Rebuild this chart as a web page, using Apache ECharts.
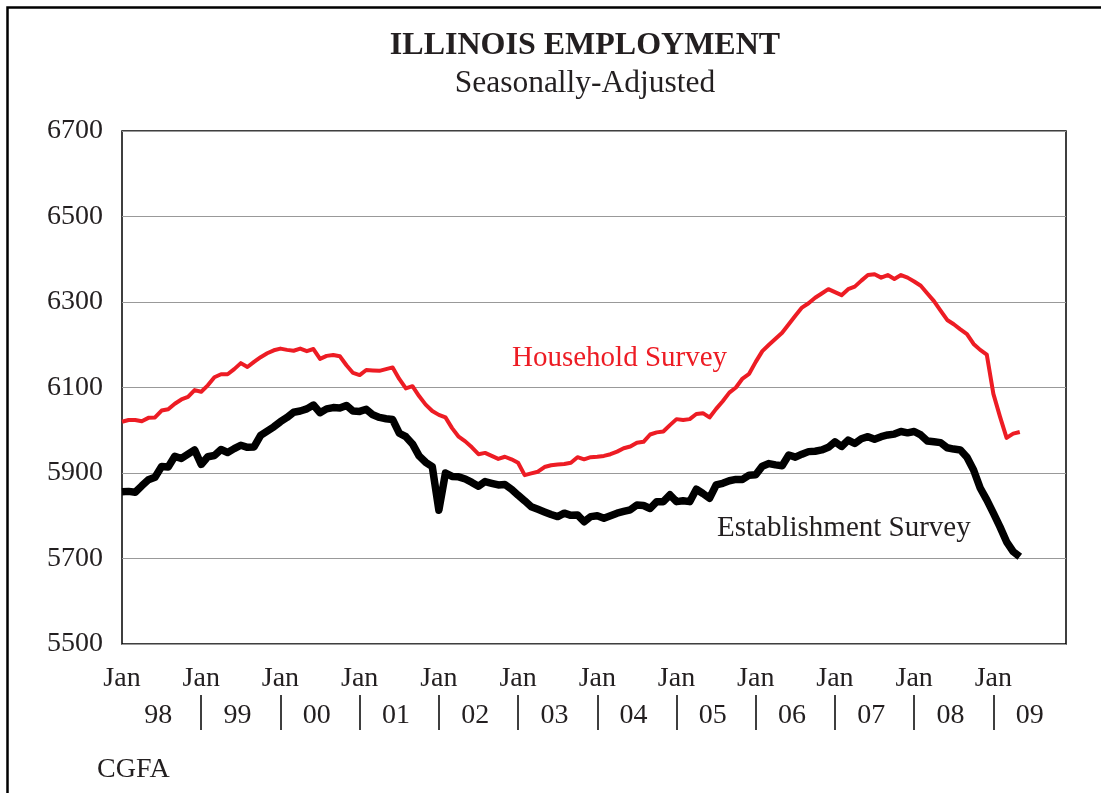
<!DOCTYPE html>
<html>
<head>
<meta charset="utf-8">
<title>Illinois Employment</title>
<script src="https://cdn.jsdelivr.net/npm/echarts@6/dist/echarts.min.js"></script>
<style>
  html, body { margin: 0; padding: 0; background: #fff; }
  #chart { width: 1101px; height: 793px; }
</style>
</head>
<body>
<div id="chart"></div>
<script>
// month names and two-digit years on the x axis (Jan 98 .. Dec 09)
const months = ["Jan", "Feb", "Mar", "Apr", "May", "Jun", "Jul", "Aug", "Sep", "Oct", "Nov", "Dec"];
const years = ["98", "99", "00", "01", "02", "03", "04", "05", "06", "07", "08", "09"];
const yTicks = [5500, 6700, 200]; // min, max, step

// thousands of jobs, monthly from Jan 1998
const household = [
  6020, 6024, 6024, 6021, 6029, 6030, 6046, 6049, 6062, 6072, 6078, 6094,
  6090, 6105, 6124, 6131, 6131, 6143, 6157, 6148, 6160, 6171, 6180, 6187,
  6191, 6188, 6186, 6191, 6185, 6190, 6167, 6174, 6176, 6173, 6152, 6134,
  6129, 6141, 6140, 6139, 6143, 6147, 6120, 6098, 6103, 6080, 6060, 6045,
  6036, 6030, 6005, 5985, 5974, 5960, 5944, 5947, 5940, 5933, 5938, 5932,
  5924, 5895, 5899, 5903, 5914, 5918, 5920, 5921, 5924, 5937, 5932, 5937,
  5938, 5940, 5944, 5950, 5958, 5962, 5971, 5973, 5990, 5995, 5997, 6012,
  6026, 6024, 6026, 6038, 6040, 6030, 6050, 6068, 6088, 6100, 6121, 6132,
  6160, 6185, 6200, 6214, 6228, 6248, 6268, 6287, 6297, 6310, 6320, 6330,
  6323, 6316, 6330, 6336, 6350, 6363, 6365, 6357, 6363, 6354, 6363, 6357,
  6348, 6338, 6320, 6302, 6280, 6258, 6248, 6236, 6225, 6202, 6188, 6177,
  6085, 6032, 5982, 5992, 5996
];
const establishment = [
  5856, 5857, 5855, 5870, 5884, 5890, 5915, 5914, 5939, 5934, 5944, 5954,
  5920, 5938, 5941, 5955, 5948, 5957, 5965, 5960, 5961, 5988, 5998, 6008,
  6020, 6030, 6042, 6045, 6050, 6059, 6041, 6050, 6053, 6052, 6058, 6045,
  6044, 6049, 6036, 6030, 6027, 6025, 5993, 5985, 5968, 5940, 5925, 5915,
  5813, 5900, 5892, 5891, 5886, 5878, 5869, 5880, 5876, 5872, 5873, 5862,
  5848, 5835, 5821, 5815, 5809, 5803, 5798, 5806, 5801, 5802, 5786, 5798,
  5800, 5794, 5800, 5806, 5810, 5814, 5825, 5824, 5817, 5833, 5833, 5849,
  5833, 5835, 5833, 5862, 5852, 5841, 5872, 5876, 5882, 5885, 5885, 5895,
  5896, 5916, 5922, 5919, 5917, 5942, 5937, 5944, 5950, 5951, 5954, 5960,
  5973, 5962, 5977, 5969, 5980, 5985, 5979, 5985, 5989, 5991, 5997, 5994,
  5997, 5989, 5975, 5973, 5971, 5959, 5956, 5954, 5937, 5907, 5865, 5837,
  5806, 5774, 5739, 5716, 5704
];

const serif = "'Liberation Serif', 'DejaVu Serif', serif";
const textColor = "#231f20";

const categories = [];
years.forEach((y) => months.forEach((m) => categories.push(m + " " + y)));

const chart = echarts.init(document.getElementById("chart"));
const option = {
  animation: false,
  backgroundColor: "#fff",
  grid: {
    left: 122,
    top: 131,
    right: 35,
    bottom: 149,
    show: true,
    borderColor: "#000",
    borderWidth: 1.5,
  },
  xAxis: [
    {
      type: "category",
      data: categories,
      boundaryGap: false,
      axisLine: { show: false },
      axisTick: { show: false },
      splitLine: { show: false },
      axisLabel: {
        interval: (index) => index % 12 === 0,
        formatter: (value) => value.split(" ")[0],
        margin: 21,
        fontFamily: serif,
        fontSize: 28,
        color: textColor,
      },
    },
    {
      // year row: one band per month so labels sit mid-year
      type: "category",
      data: categories.slice(0, categories.length - 1),
      boundaryGap: true,
      position: "bottom",
      offset: 51,
      axisLine: { show: false },
      axisTick: { show: false },
      splitLine: { show: false },
      axisLabel: {
        interval: (index) => index % 12 === 5,
        formatter: (value) => value.split(" ")[1],
        margin: 7,
        fontFamily: serif,
        fontSize: 28,
        color: textColor,
      },
    },
    {
      // year separators at each January
      type: "category",
      data: categories,
      boundaryGap: false,
      position: "bottom",
      offset: 51,
      axisLine: { show: false },
      axisLabel: { show: false },
      splitLine: { show: false },
      axisTick: {
        show: true,
        interval: (index) => index > 0 && index % 12 === 0,
        length: 35,
        lineStyle: { color: "#000", width: 1.5 },
      },
    },
  ],
  yAxis: {
    type: "value",
    min: yTicks[0],
    max: yTicks[1],
    interval: yTicks[2],
    axisLine: { show: false },
    axisTick: { show: false },
    splitLine: { lineStyle: { color: "#999", width: 1 } },
    axisLabel: {
      margin: 19,
      formatter: (value) => String(value),
      fontFamily: serif,
      fontSize: 28,
      lineHeight: 28,
      padding: [4, 0, 0, 0],
      color: textColor,
    },
  },
  series: [
    {
      name: "Establishment Survey",
      type: "line",
      data: establishment,
      symbol: "none",
      lineStyle: { color: "#000", width: 7.5, join: "round" },
    },
    {
      name: "Household Survey",
      type: "line",
      data: household,
      symbol: "none",
      lineStyle: { color: "#ed1c24", width: 4, join: "round" },
    },
  ],
  graphic: [
    {
      type: "rect",
      shape: { x: 7.5, y: 7.5, width: 1300, height: 1000 },
      style: { fill: "none", stroke: "#000", lineWidth: 2.5 },
      silent: true,
    },
    {
      type: "text",
      x: 585,
      y: 46,
      style: {
        text: "ILLINOIS EMPLOYMENT",
        font: "bold 32px " + serif,
        fill: textColor,
        align: "center",
        verticalAlign: "middle",
      },
    },
    {
      type: "text",
      x: 585,
      y: 84,
      style: {
        text: "Seasonally-Adjusted",
        font: "31.5px " + serif,
        fill: textColor,
        align: "center",
        verticalAlign: "middle",
      },
    },
    {
      type: "text",
      x: 512,
      y: 358,
      style: {
        text: "Household Survey",
        font: "29px " + serif,
        fill: "#ed1c24",
        align: "left",
        verticalAlign: "middle",
      },
    },
    {
      type: "text",
      x: 717,
      y: 528,
      style: {
        text: "Establishment Survey",
        font: "29px " + serif,
        fill: textColor,
        align: "left",
        verticalAlign: "middle",
      },
    },
    {
      type: "text",
      x: 97,
      y: 770,
      style: {
        text: "CGFA",
        font: "28px " + serif,
        fill: textColor,
        align: "left",
        verticalAlign: "middle",
      },
    },
  ],
};
chart.setOption(option);
</script>
</body>
</html>
